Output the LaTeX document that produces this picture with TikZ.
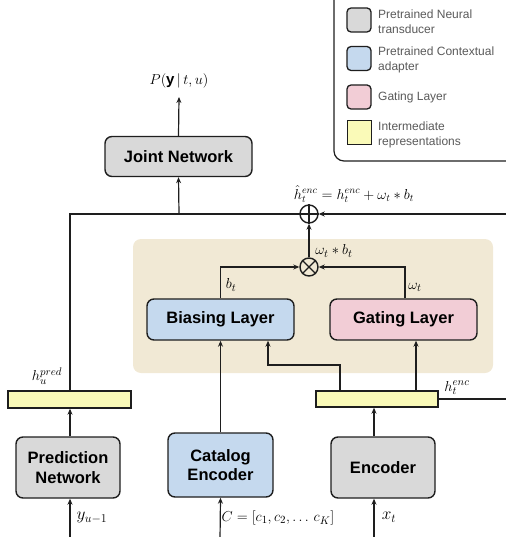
\documentclass[tikz,border=0pt]{standalone}
\usepackage{fontspec}
\setmainfont{Liberation Sans}
\usetikzlibrary{arrows.meta}
\definecolor{netgray}{HTML}{D9D9D9}
\definecolor{adaptblue}{HTML}{C5D9EE}
\definecolor{gatepink}{HTML}{F2CDD6}
\definecolor{interyellow}{HTML}{FAFAB8}
\definecolor{panelbeige}{HTML}{F1E9D5}
\definecolor{edgedark}{HTML}{1E1E1E}
\definecolor{legendtext}{HTML}{5A5A5A}
\tikzset{
  block/.style={draw=edgedark, line width=1.4pt, rounded corners=7pt, align=center,
    font=\fontsize{16.5}{19.5}\selectfont\bfseries, inner sep=0pt},
  netbox/.style={block, fill=netgray},
  adaptbox/.style={block, fill=adaptblue},
  gatebox/.style={block, fill=gatepink},
  repbar/.style={draw=edgedark, line width=1.4pt, fill=interyellow, inner sep=0pt},
  opnode/.style={circle, draw=edgedark, line width=1.4pt, minimum size=18pt, inner sep=0pt},
  flow/.style={draw=edgedark, line width=1.2pt, -{Stealth[length=6pt,width=5pt]}},
  wire/.style={draw=edgedark, line width=1.2pt},
  mathlbl/.style={font=\fontsize{15}{18}\selectfont, inner sep=0pt},
  swatch/.style={draw=edgedark, line width=1.3pt, rounded corners=4pt, minimum width=24pt, minimum height=24pt, inner sep=0pt},
  legendlbl/.style={anchor=west, align=left, text=legendtext, font=\fontsize{12}{15}\selectfont, inner sep=0pt}
}
\begin{document}
\begin{tikzpicture}[x=1pt, y=-1pt]
\useasboundingbox (0,0) rectangle (505,537);

% legend
\draw[edgedark, line width=1.2pt, rounded corners=10pt, fill=white] (334,-10) rectangle (516,161);
\node[swatch, fill=netgray] (sw1) at (359,20) {};
\node[swatch, fill=adaptblue] (sw2) at (359,58.5) {};
\node[swatch, fill=gatepink] (sw3) at (359,97) {};
\node[swatch, fill=interyellow, rounded corners=0pt] (sw4) at (359.5,132.5) {};
\node[legendlbl] (lg1) at (378,22) {Pretrained Neural\\transducer};
\node[legendlbl] (lg2) at (378,59.5) {Pretrained Contextual\\adapter};
\node[legendlbl] (lg3) at (378,97) {Gating Layer};
\node[legendlbl] (lg4) at (378,134.5) {Intermediate\\representations};

% contextual adapter panel
\fill[panelbeige, rounded corners=8pt] (133,239) rectangle (493,373);

% blocks
\node[netbox, minimum width=147pt, minimum height=40pt] (joint) at (178.5,156.5) {Joint Network};
\node[netbox, minimum width=104pt, minimum height=61pt] (pred) at (68,467.5) {Prediction\\Network};
\node[adaptbox, minimum width=105pt, minimum height=64pt] (cat) at (220.5,465) {Catalog\\Encoder};
\node[netbox, minimum width=104pt, minimum height=61pt] (enc) at (383,467.5) {Encoder};
\node[adaptbox, minimum width=147pt, minimum height=41pt] (bias) at (220.5,319.5) {Biasing Layer};
\node[gatebox, minimum width=147pt, minimum height=41pt] (gate) at (403.5,319.5) {Gating Layer};
\node[repbar, minimum width=123pt, minimum height=17pt] (hpred) at (69.5,399.5) {};
\node[repbar, minimum width=122pt, minimum height=16pt] (henc) at (377,399) {};

% combination operators
\node[opnode] (plus) at (309,214) {};
\draw[edgedark, line width=1.4pt] (plus.north) -- (plus.south) (plus.west) -- (plus.east);
\node[opnode] (times) at (309,267) {};
\draw[edgedark, line width=1.4pt] (times.north west) -- (times.south east) (times.north east) -- (times.south west);

% labels
\node[mathlbl] (pout) at (179,81) {$P(\mathbf{y}\,|\,t,u)$};
\node[mathlbl, font=\fontsize{14}{17}\selectfont] (hhat) at (354,194) {$\hat{h}^{enc}_t = h^{enc}_t + \omega_t * b_t$};
\node[mathlbl] (wb) at (334,251) {$\omega_t * b_t$};
\node[mathlbl] (bt) at (231,285) {$b_t$};
\node[mathlbl] (wt) at (415,287) {$\omega_t$};
\node[mathlbl] (hp) at (47,376) {$h^{pred}_u$};
\node[mathlbl] (he) at (457,388) {$h^{enc}_t$};
\node[mathlbl, font=\fontsize{17}{20}\selectfont] (yin) at (92,518) {$y_{u-1}$};
\node[mathlbl] (cin) at (278,518) {$C = [c_1, c_2, \ldots\, c_K]$};
\node[mathlbl, font=\fontsize{17}{20}\selectfont] (xin) at (389,517) {$x_t$};

% input anchors at the lower edge
\coordinate (ysrc) at (70,540);
\coordinate (csrc) at (220,540);
\coordinate (xsrc) at (374,540);
\coordinate (ptop) at (179,97);
\coordinate (jfeed) at (179,214);
\coordinate (loop) at (516,399);

% connectors
\draw[flow] (joint.north) -- (ptop);
\draw[flow] (ysrc) -- (pred.south -| ysrc);
\draw[flow] (csrc) -- (cat.south);
\draw[flow] (xsrc) -- (xsrc |- enc.south);
\draw[flow] (pred.north -| ysrc) -- (hpred.south -| ysrc);
\draw[flow] (enc.north -| xsrc) -- (henc.south -| xsrc);
\draw[wire] (hpred.north -| ysrc) -- (ysrc |- plus) -- (plus.west);
\draw[flow] (jfeed) -- (joint.south);
\draw[flow] (henc.east) -- (loop) -- (loop |- plus) -- (plus.east);
\draw[flow] (times.north) -- (plus.south);
\draw[flow] (bias.north) -- (bias.north |- times) -- (times.west);
\draw[flow] (gate.north -| 405,0) -- (405,267) -- (times.east);
\draw[flow] (cat.north) -- (bias.south);
\draw[flow] (henc.north -| 340,0) -- (340,365) -- (268,365) -- (bias.south -| 268,0);
\draw[flow] (henc.north -| 416,0) -- (gate.south -| 416,0);
\end{tikzpicture}
\end{document}
